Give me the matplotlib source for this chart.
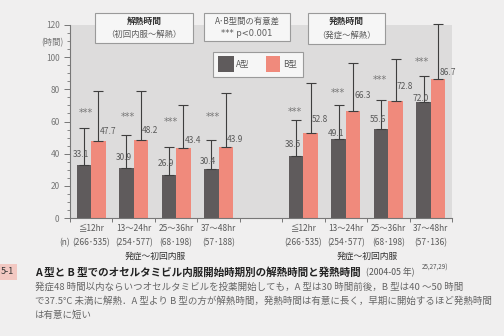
import numpy as np
import matplotlib
matplotlib.use('Agg')
import matplotlib.pyplot as plt
from matplotlib.patches import Rectangle
from matplotlib.ticker import MultipleLocator

plt.rcParams['font.family'] = ['Noto Sans CJK JP', 'DejaVu Sans']

# data
groups = ['≦12hr', '13～24hr', '25～36hr', '37～48hr']
n_left = ['(266･535)', '(254･577)', '(68･198)', '(57･188)']
n_right = ['(266･535)', '(254･577)', '(68･198)', '(57･136)']

# 解熱時間 (初回内服～解熱)
kaine_A = [33.1, 30.9, 26.9, 30.4]
kaine_B = [47.7, 48.2, 43.4, 43.9]
kaine_A_sd = [23, 21, 17, 18]
kaine_B_sd = [31, 31, 27, 34]
# 発熱時間 (発症～解熱)
hatsu_A = [38.5, 49.1, 55.6, 72.0]
hatsu_B = [52.8, 66.3, 72.8, 86.7]
hatsu_A_sd = [22.5, 21, 17.5, 16.5]
hatsu_B_sd = [31, 30, 26, 34]

# annotation heights
star_left = [65, 62.5, 60, 62.5]
star_right = [66, 78, 86, 97]
lab_dyA = [6.5, 6.6, 7, 4.6, 7.5, 3.6, 5.8, 2]
lab_dyB = [6, 6.5, 5, 4.6, 8.7, 10, 8.8, 4]

colA = '#5f5b5c'
colB = '#f08a7c'
txt = '#5a5a5a'

W, H = 504, 336
fig = plt.figure(figsize=(5.04, 3.36), dpi=100)
fig.patch.set_facecolor('#f0efef')

def fx(x):
    return x / W

def fy(y):
    return 1 - y / H

ax = fig.add_axes([fx(70), fy(218), (452 - 70) / W, (218 - 25) / H])
ax.set_facecolor('#dddcdc')

xs = np.array([0, 1, 2, 3, 5, 6, 7, 8])
A = kaine_A + hatsu_A
B = kaine_B + hatsu_B
Asd = kaine_A_sd + hatsu_A_sd
Bsd = kaine_B_sd + hatsu_B_sd
w = 0.34

ax.bar(xs - w / 2, A, w, color=colA, edgecolor='none', zorder=2)
ax.bar(xs + w / 2, B, w, color=colB, edgecolor='none', zorder=2)
ek = dict(fmt='none', ecolor='#3e3e3e', elinewidth=0.8, capsize=3.5,
          capthick=0.8, zorder=3, clip_on=False)
ax.errorbar(xs - w / 2, A, yerr=[np.zeros(8), Asd], **ek)
eb = ax.errorbar(xs + w / 2, B, yerr=[np.zeros(8), Bsd], **ek)
for art in eb.lines[1] + eb.lines[2]:
    art.set_clip_on(False)

for i, x in enumerate(xs):
    ax.text(x - w / 2 + 0.12, A[i] + lab_dyA[i], f'{A[i]:.1f}', ha='right',
            va='center', fontsize=6, color=txt, zorder=4)
    ax.text(x + w / 2 + 0.03, B[i] + lab_dyB[i], f'{B[i]:.1f}', ha='left',
            va='center', fontsize=6, color=txt, zorder=4)

stars = star_left + star_right
for i, x in enumerate(xs):
    off = -0.13 if i < 4 else -0.2
    ax.text(x + off, stars[i], '***', ha='center', va='center',
            fontsize=7, color='#777777', family='DejaVu Sans')

ax.set_xlim(-0.5, 8.5)
ax.set_ylim(0, 120)
ax.set_yticks(range(0, 121, 20))
ax.yaxis.set_minor_locator(MultipleLocator(5))
ax.set_xticks(np.arange(-0.5, 9, 1))
ax.set_xticklabels([])
ax.tick_params(axis='y', labelsize=6, colors='#777777', length=4, width=0.7)
ax.tick_params(axis='y', which='minor', length=2, width=0.6, colors='#777777')
ax.tick_params(axis='x', length=3, width=0.7, colors='#777777')
for s in ['top', 'right']:
    ax.spines[s].set_visible(False)
for s in ['left', 'bottom']:
    ax.spines[s].set_color('#777777')
    ax.spines[s].set_linewidth(0.8)

tr = ax.get_xaxis_transform()
labels_n = n_left + n_right
for i, x in enumerate(xs):
    ax.text(x, -0.052, groups[i % 4], transform=tr, ha='center', va='center',
            fontsize=6, color=txt)
    ax.text(x, -0.128, labels_n[i], transform=tr, ha='center', va='center',
            fontsize=6, color=txt)
ax.text(-0.5, -0.128, '(n)', transform=tr, ha='right', va='center',
        fontsize=6, color=txt)
for cx in [1.5, 6.5]:
    ax.text(cx, -0.2, '発症～初回内服', transform=tr, ha='center', va='center',
            fontsize=6.3, color='#333333')

fig.text(fx(52), fy(43), '(時間)', ha='center', va='center', fontsize=6,
         color='#777777')

# boxes
def box(x0, y0, x1, y1):
    fig.patches.append(Rectangle((fx(x0), fy(y1)), fx(x1 - x0), (y1 - y0) / H,
                                 transform=fig.transFigure, facecolor='#f6f6f6',
                                 edgecolor='#9a9a9a', linewidth=0.8, zorder=5))

box(95, 13, 193, 43)
fig.text(fx(144), fy(21), '解熱時間', ha='center', va='center', fontsize=6.3,
         color='#333333', weight='bold', zorder=6)
fig.text(fx(144), fy(34), '（初回内服～解熱）', ha='center', va='center',
         fontsize=6, color=txt, zorder=6)

box(308, 13, 385, 44)
fig.text(fx(346.5), fy(21), '発熱時間', ha='center', va='center', fontsize=6.3,
         color='#333333', weight='bold', zorder=6)
fig.text(fx(346.5), fy(35), '（発症～解熱）', ha='center', va='center',
         fontsize=6, color=txt, zorder=6)

box(204, 13, 290, 41)
fig.text(fx(247), fy(21), 'A･B型間の有意差', ha='center', va='center',
         fontsize=6, color=txt, zorder=6)
fig.text(fx(247), fy(33), '*** p<0.001', ha='center', va='center',
         fontsize=6, color=txt, zorder=6, family='DejaVu Sans')

box(213, 52, 303, 77)
fig.patches.append(Rectangle((fx(218), fy(72)), fx(16), 16 / H,
                             transform=fig.transFigure, facecolor=colA,
                             edgecolor='none', zorder=6))
fig.patches.append(Rectangle((fx(266), fy(72)), fx(14), 16 / H,
                             transform=fig.transFigure, facecolor=colB,
                             edgecolor='none', zorder=6))
fig.text(fx(236), fy(64), 'A型', ha='left', va='center', fontsize=6,
         color=txt, zorder=7)
fig.text(fx(283), fy(64), 'B型', ha='left', va='center', fontsize=6,
         color=txt, zorder=7)

# caption
fig.patches.append(Rectangle((0, fy(280)), fx(17), 16 / H,
                             transform=fig.transFigure, facecolor='#f2c8c2',
                             edgecolor='none'))
fig.text(fx(1), fy(272), '5-1', ha='left', va='center', fontsize=6.5,
         color='#333333')
fig.text(fx(35), fy(272),
         'A 型と B 型でのオセルタミビル内服開始時期別の解熱時間と発熱時間',
         ha='left', va='center', fontsize=7.6, color='#222222', weight='bold')
fig.text(fx(366), fy(272), '(2004-05 年)', ha='left', va='center',
         fontsize=6.3, color='#555555')
fig.text(fx(422), fy(268), '25,27,29)', ha='left', va='center', fontsize=4.5,
         color='#555555')
cap_lines = [
    '発症48 時間以内ならいつオセルタミビルを投薬開始しても，A 型は30 時間前後，B 型は40 ～50 時間',
    'で37.5°C 未満に解熱．A 型より B 型の方が解熱時間，発熱時間は有意に長く，早期に開始するほど発熱時間',
    'は有意に短い',
]
for k, line in enumerate(cap_lines):
    fig.text(fx(35), fy(287 + 14 * k), line, ha='left', va='center',
             fontsize=6.8, color='#666666')

fig.savefig('out.png', dpi=100, facecolor=fig.get_facecolor())
